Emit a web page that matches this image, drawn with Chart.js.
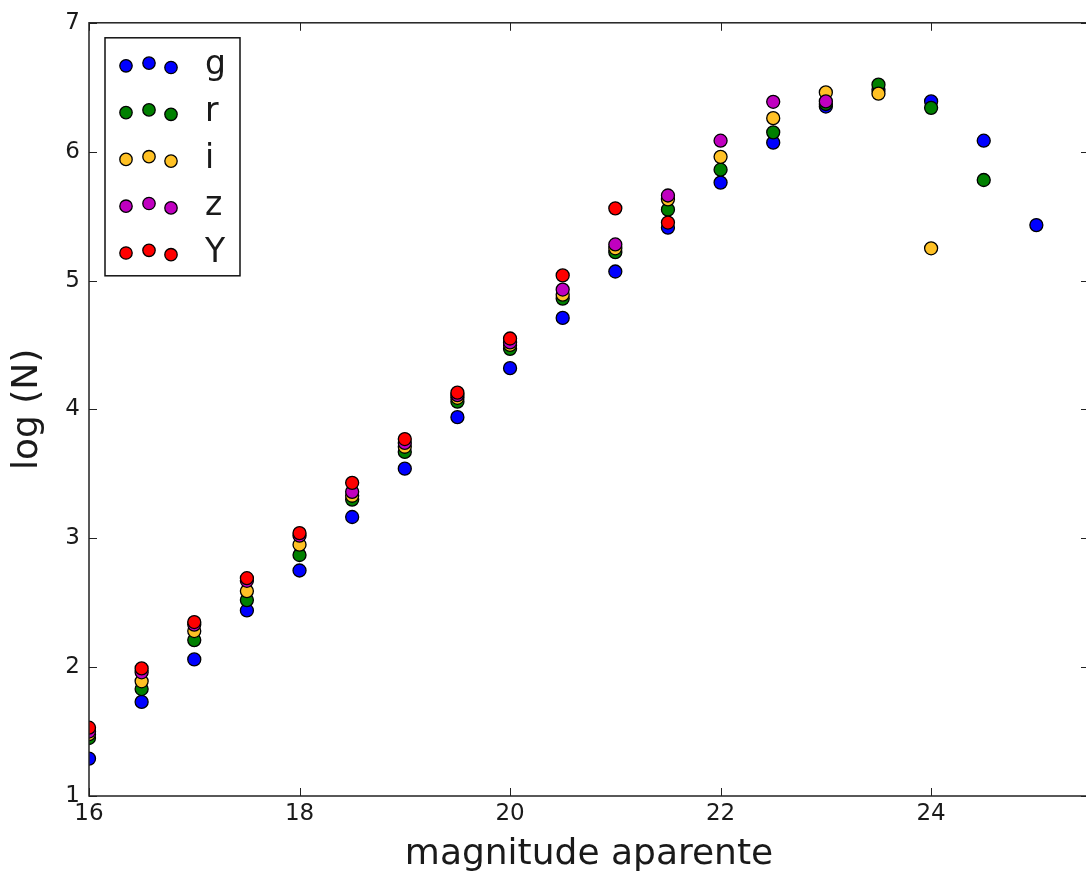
<!DOCTYPE html>
<html>
<head>
<meta charset="utf-8">
<script src="https://cdn.jsdelivr.net/npm/chart.js@4/dist/chart.umd.min.js"></script>
<style>
  html, body { margin: 0; padding: 0; background: #fff; overflow: hidden; }
  .wrap { width: 1086px; height: 876px; overflow: hidden; }
</style>
</head>
<body>
<div class="wrap"><canvas id="contagemChart" width="1100" height="876"></canvas></div>
<script>
// magnitudes (bins de 0.5)
const magnitudes = [16, 16.5, 17, 17.5, 18, 18.5, 19, 19.5, 20, 20.5, 21, 21.5, 22, 22.5, 23, 23.5, 24, 24.5, 25];

// log(N) por filtro
const logG = [1.29, 1.73, 2.06, 2.44, 2.75, 3.165, 3.54, 3.94, 4.32, 4.71, 5.07, 5.41, 5.76, 6.07, 6.35, 6.48, 6.39, 6.085, 5.43];
const logR = [1.45, 1.83, 2.21, 2.52, 2.87, 3.30, 3.67, 4.06, 4.47, 4.86, 5.22, 5.55, 5.86, 6.15, 6.37, 6.52, 6.34, 5.78];
const logI = [1.48, 1.89, 2.28, 2.59, 2.95, 3.33, 3.71, 4.09, 4.50, 4.89, 5.25, 5.63, 5.96, 6.26, 6.46, 6.45, 5.25];
const logZ = [1.50, 1.96, 2.33, 2.67, 3.02, 3.36, 3.74, 4.11, 4.52, 4.93, 5.28, 5.66, 6.085, 6.387, 6.39];
const logY = [1.53, 1.99, 2.35, 2.69, 3.04, 3.43, 3.77, 4.13, 4.55, 5.04, 5.56, 5.45];

const filtros = ['g', 'r', 'i', 'z', 'Y'];
const cores = ['#0000ff', '#008000', '#ffc125', '#c000c0', '#ff0000'];

const xTicks = [16, 18, 20, 22, 24];
const yTicks = [1, 2, 3, 4, 5, 6, 7];

const fonte = '"DejaVu Sans", sans-serif';
const corTexto = '#1a1a1a';

function toPoints(values) {
    return values.map((v, i) => ({ x: magnitudes[i], y: v }));
}

const series = [logG, logR, logI, logZ, logY];

// ticks para dentro + moldura completa (estilo matplotlib)
const frameTicks = {
    id: 'frameTicks',
    afterDatasetsDraw(chart) {
        const { ctx, chartArea: a, scales: { x, y } } = chart;
        ctx.save();
        ctx.strokeStyle = '#222';
        ctx.lineWidth = 1;
        ctx.beginPath();
        x.ticks.forEach(t => {
            const px = Math.round(x.getPixelForValue(t.value)) + 0.5;
            ctx.moveTo(px, a.bottom); ctx.lineTo(px, a.bottom - 8);
            ctx.moveTo(px, a.top); ctx.lineTo(px, a.top + 8);
        });
        y.ticks.forEach(t => {
            const py = Math.round(y.getPixelForValue(t.value)) + 0.5;
            ctx.moveTo(a.left, py); ctx.lineTo(a.left + 8, py);
            ctx.moveTo(a.right, py); ctx.lineTo(a.right - 8, py);
        });
        ctx.stroke();
        ctx.lineWidth = 1.5;
        ctx.strokeRect(a.left, a.top, a.right - a.left, a.bottom - a.top);
        ctx.restore();
    }
};

// legenda com tres pontos por filtro
const dotLegend = {
    id: 'dotLegend',
    afterDraw(chart) {
        const { ctx, chartArea: a } = chart;
        const x0 = a.left + 16, y0 = a.top + 15;
        ctx.save();
        ctx.fillStyle = '#fff';
        ctx.fillRect(x0, y0, 135, 238);
        ctx.lineWidth = 1.5;
        ctx.strokeStyle = '#111';
        ctx.strokeRect(x0, y0, 135, 238);
        chart.data.datasets.forEach((ds, i) => {
            const cy = y0 + 28 + i * 46.8;
            [[21, 0], [44, -2.7], [66, 1.7]].forEach(([dx, dy]) => {
                ctx.beginPath();
                ctx.arc(x0 + dx, cy + dy, 6.2, 0, Math.PI * 2);
                ctx.fillStyle = ds.backgroundColor;
                ctx.fill();
                ctx.lineWidth = 1.3;
                ctx.strokeStyle = '#000';
                ctx.stroke();
            });
            ctx.fillStyle = corTexto;
            ctx.font = '33px ' + fonte;
            ctx.textBaseline = 'middle';
            ctx.fillText(ds.label, x0 + 100, cy);
        });
        ctx.restore();
    }
};

const ctx = document.getElementById('contagemChart').getContext('2d');

new Chart(ctx, {
    type: 'scatter',
    data: {
        datasets: series.map((vals, i) => ({
            label: filtros[i],
            data: toPoints(vals),
            backgroundColor: cores[i],
            borderColor: '#000',
            borderWidth: 1.3,
            pointRadius: 6.5,
            pointHoverRadius: 6.5,
            clip: 0,
            order: series.length - i   // Y por cima, como no matplotlib
        }))
    },
    options: {
        responsive: false,
        animation: false,
        devicePixelRatio: 1,
        layout: { padding: { top: 20, right: 11, left: 0, bottom: 0 } },
        plugins: {
            legend: { display: false },
            tooltip: { enabled: false }
        },
        scales: {
            x: {
                type: 'linear',
                min: 16,
                max: 25.5,
                afterBuildTicks: s => { s.ticks = xTicks.map(v => ({ value: v })); },
                afterFit: s => { s.height = 80; },
                grid: { display: false, drawTicks: false },
                border: { display: false },
                ticks: {
                    font: { family: fonte, size: 23 },
                    color: corTexto,
                    padding: 4,
                    maxRotation: 0,
                    autoSkip: false
                },
                title: {
                    display: true,
                    text: 'magnitude aparente',
                    font: { family: fonte, size: 36 },
                    color: corTexto,
                    padding: { top: 0, bottom: 0 }
                }
            },
            y: {
                min: 1,
                max: 7,
                afterBuildTicks: s => { s.ticks = yTicks.map(v => ({ value: v })); },
                afterFit: s => { s.width = 89; },
                grid: { display: false, drawTicks: false },
                border: { display: false },
                ticks: {
                    font: { family: fonte, size: 23 },
                    color: corTexto,
                    padding: 9,
                    autoSkip: false
                },
                title: {
                    display: true,
                    text: 'log (N)',
                    font: { family: fonte, size: 36 },
                    color: corTexto,
                    padding: { top: 6, bottom: 0 }
                }
            }
        }
    },
    plugins: [frameTicks, dotLegend]
});
</script>
</body>
</html>
